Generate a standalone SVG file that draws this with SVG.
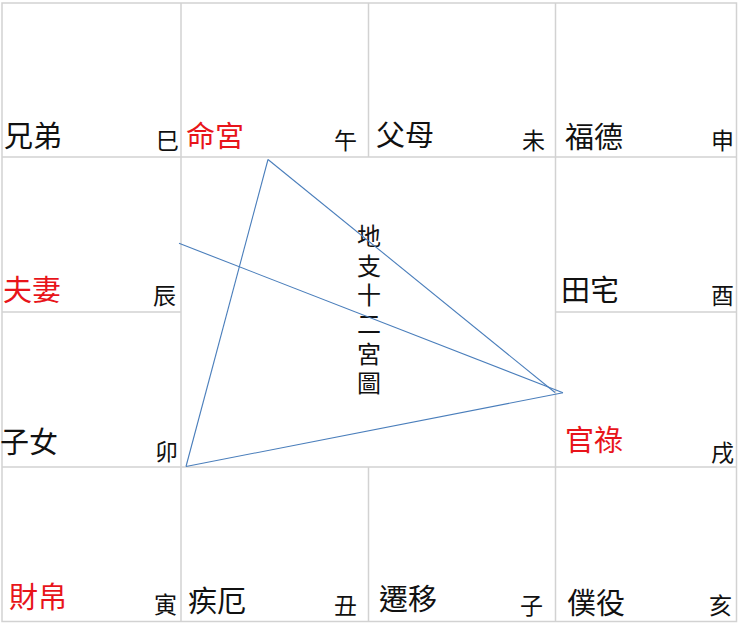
<svg xmlns="http://www.w3.org/2000/svg" width="740" height="623" viewBox="0 0 740 623">
<style>
.grid{stroke:#d2d2d2;stroke-width:1.5;fill:none}
.big{font-family:"Noto Sans CJK TC","Noto Sans CJK SC",sans-serif;font-size:29px;fill:#111}
.red{fill:#e8141a}
.sm{font-family:"Noto Sans CJK TC","Noto Sans CJK SC",sans-serif;font-size:23px;fill:#111}
.vt{font-family:"Noto Sans CJK TC","Noto Sans CJK SC",sans-serif;font-size:24px;fill:#111;writing-mode:vertical-rl;letter-spacing:5.4px}
.ln{stroke:#4a7ebb;stroke-width:1.1;fill:none}
</style>
<rect width="740" height="623" fill="#fff"/>
<g id="grid" class="grid">
<rect x="2" y="3" width="734.5" height="618.5"/>
<line x1="2" y1="157" x2="736.5" y2="157"/>
<line x1="2" y1="312" x2="181" y2="312"/>
<line x1="555.5" y1="312" x2="736.5" y2="312"/>
<line x1="2" y1="467" x2="736.5" y2="467"/>
<line x1="181" y1="3" x2="181" y2="621.5"/>
<line x1="555.5" y1="3" x2="555.5" y2="621.5"/>
<line x1="368.5" y1="3" x2="368.5" y2="157"/>
<line x1="368.5" y1="467" x2="368.5" y2="621.5"/>
</g>
<g id="cell-si"><text class="big" x="4" y="147">兄弟</text><text class="sm" x="156" y="148.5">巳</text></g>
<g id="cell-wu"><text class="big red" x="186" y="147">命宮</text><text class="sm" x="334" y="148.5">午</text></g>
<g id="cell-wei"><text class="big" x="376" y="146">父母</text><text class="sm" x="522" y="149">未</text></g>
<g id="cell-shen"><text class="big" x="565" y="148">福德</text><text class="sm" x="711" y="148.5">申</text></g>
<g id="cell-chen"><text class="big red" x="3" y="301">夫妻</text><text class="sm" x="153" y="303.5">辰</text></g>
<g id="cell-you"><text class="big" x="561" y="301">田宅</text><text class="sm" x="711" y="303.5">酉</text></g>
<g id="cell-mao"><text class="big" x="0" y="453">子女</text><text class="sm" x="155" y="460">卯</text></g>
<g id="cell-xu"><text class="big red" x="565" y="451">官祿</text><text class="sm" x="711" y="461">戌</text></g>
<g id="cell-yin"><text class="big red" x="9" y="608">財帛</text><text class="sm" x="154" y="613">寅</text></g>
<g id="cell-chou"><text class="big" x="188" y="612">疾厄</text><text class="sm" x="334" y="613.5">丑</text></g>
<g id="cell-zi"><text class="big" x="379" y="610">遷移</text><text class="sm" x="520" y="613.5">子</text></g>
<g id="cell-hai"><text class="big" x="567" y="614">僕役</text><text class="sm" x="709" y="614">亥</text></g>
<g id="title"><text class="vt" x="369" y="224">地支十二宮圖</text></g>
<g id="connectors" class="ln">
<line x1="268" y1="159.5" x2="555" y2="392.5"/>
<line x1="268" y1="159.5" x2="186" y2="466.5"/>
<line x1="186" y1="466.5" x2="563" y2="392.7"/>
<line x1="179" y1="243.3" x2="563" y2="392.7"/>
</g>
</svg>
